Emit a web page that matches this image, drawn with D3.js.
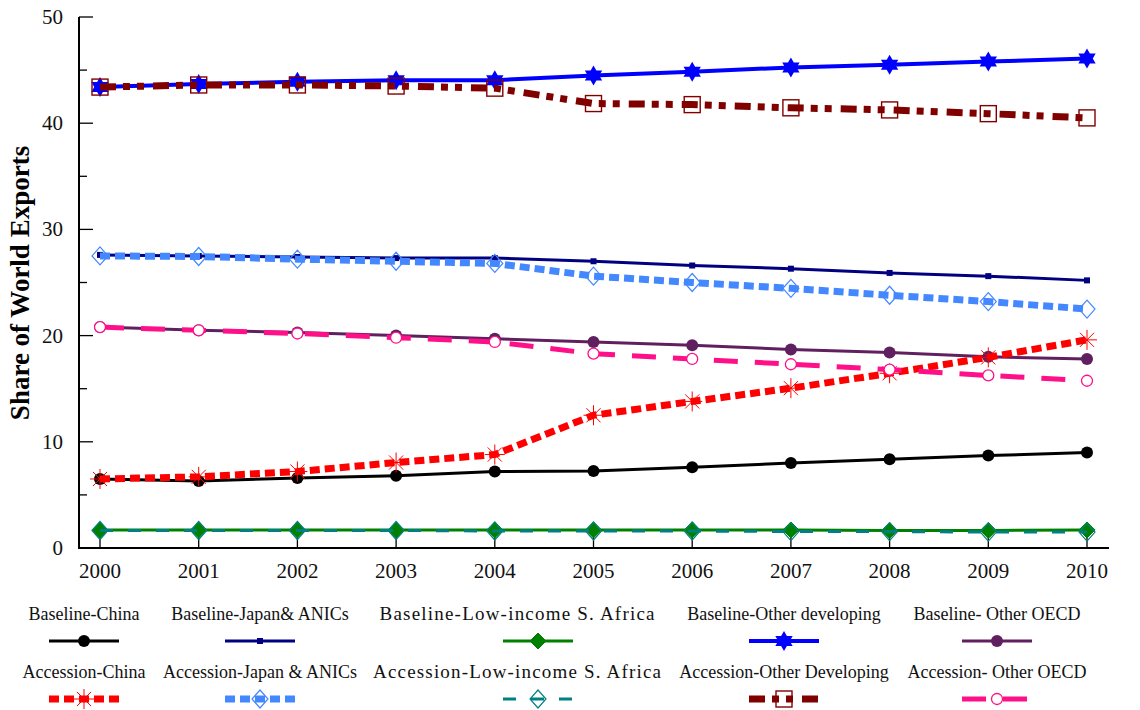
<!DOCTYPE html>
<html>
<head>
<meta charset="utf-8">
<script src="https://cdn.jsdelivr.net/npm/d3@7"></script>
<style>
  html, body { margin: 0; padding: 0; background: #fff; }
  svg { display: block; font-family: "Liberation Serif", "Times New Roman", serif; }
</style>
</head>
<body>
<svg id="chart" width="1140" height="710"></svg>
<script>
// Years on the horizontal axis
const years = [2000, 2001, 2002, 2003, 2004, 2005, 2006, 2007, 2008, 2009, 2010];

// Share of world exports (%) by scenario and region
const baselineChina        = [6.5, 6.3, 6.6, 6.8, 7.2, 7.25, 7.6, 8.0, 8.35, 8.7, 9.0];
const baselineJapanANICs   = [27.6, 27.5, 27.4, 27.3, 27.3, 27.0, 26.6, 26.3, 25.9, 25.6, 25.2];
const baselineLowIncome    = [1.7, 1.7, 1.7, 1.7, 1.7, 1.7, 1.7, 1.7, 1.65, 1.65, 1.7];
const baselineOtherDev     = [43.4, 43.7, 43.9, 44.05, 44.05, 44.5, 44.85, 45.25, 45.5, 45.8, 46.1];
const baselineOtherOECD    = [20.8, 20.5, 20.3, 20.0, 19.7, 19.4, 19.1, 18.7, 18.4, 18.0, 17.8];
const accessionChina       = [6.5, 6.7, 7.2, 8.05, 8.8, 12.5, 13.8, 15.05, 16.45, 17.95, 19.6];
const accessionJapanANICs  = [27.5, 27.45, 27.2, 27.0, 26.8, 25.6, 25.0, 24.45, 23.8, 23.2, 22.5];
const accessionLowIncome   = [1.65, 1.65, 1.65, 1.65, 1.6, 1.6, 1.6, 1.55, 1.55, 1.5, 1.5];
const accessionOtherDev    = [43.4, 43.6, 43.6, 43.5, 43.3, 41.85, 41.75, 41.45, 41.25, 40.9, 40.5];
const accessionOtherOECD   = [20.8, 20.5, 20.2, 19.8, 19.4, 18.3, 17.8, 17.3, 16.8, 16.25, 15.75];

// Axis ticks
const yTickValues = [0, 10, 20, 30, 40, 50];
const yMinorTicks = [5, 15, 25, 35, 45];

// Series styles
const series = [
  { name: "Baseline-China", values: baselineChina, color: "#000000", width: 3, dash: null, marker: "dot", mfill: "#000000" },
  { name: "Baseline-Japan& ANICs", values: baselineJapanANICs, color: "#000080", width: 3, dash: null, marker: "smallsquare", mfill: "#000080" },
  { name: "Baseline-Low-income S. Africa", values: baselineLowIncome, color: "#008000", width: 3, dash: null, marker: "diamond", mfill: "#008000", labelWidth: 275 },
  { name: "Baseline-Other developing", values: baselineOtherDev, color: "#0000ff", width: 4, dash: null, marker: "hexstar", mfill: "#0000ff" },
  { name: "Baseline- Other OECD", values: baselineOtherOECD, color: "#602060", width: 3, dash: null, marker: "dot", mfill: "#602060" },
  { name: "Accession-China", values: accessionChina, color: "#ff0000", width: 7, dash: "10,5", marker: "asterisk", mfill: "none" },
  { name: "Accession-Japan & ANICs", values: accessionJapanANICs, color: "#4488ff", width: 7, dash: "10,5", marker: "opendiamond", mfill: "none" },
  { name: "Accession-Low-income S. Africa", values: accessionLowIncome, color: "#008080", width: 3, dash: "13,15", marker: "opendiamond", mfill: "none", labelWidth: 288 },
  { name: "Accession-Other Developing", values: accessionOtherDev, color: "#800000", width: 7, dash: "16,7,7,7,7,9", marker: "opensquare", mfill: "none" },
  { name: "Accession- Other OECD", values: accessionOtherOECD, color: "#ff1088", width: 5, dash: "24,17", marker: "opencircle", mfill: "#ffffff" }
];

const svg = d3.select("#chart");

const x = d3.scaleLinear().domain([2000, 2010]).range([100, 1087]);
const y = d3.scaleLinear().domain([0, 50]).range([548, 17]);
const axisLeft = 79, axisRight = 1109;

// Axes
const axes = svg.append("g").attr("stroke", "#000").attr("stroke-width", 2);
axes.append("line").attr("x1", axisLeft).attr("x2", axisLeft).attr("y1", y(50)).attr("y2", y(0) + 1);
axes.append("line").attr("x1", axisLeft - 1).attr("x2", axisRight).attr("y1", y(0)).attr("y2", y(0));

axes.selectAll(".ymaj").data(yTickValues).join("line")
  .attr("x1", axisLeft).attr("x2", axisLeft + 14)
  .attr("y1", d => y(d)).attr("y2", d => y(d)).attr("stroke-width", 1.3);
axes.selectAll(".ymin").data(yMinorTicks).join("line")
  .attr("x1", axisLeft).attr("x2", axisLeft + 8)
  .attr("y1", d => y(d)).attr("y2", d => y(d)).attr("stroke-width", 1.3);
axes.selectAll(".xt").data(years).join("line")
  .attr("x1", d => x(d)).attr("x2", d => x(d))
  .attr("y1", y(0)).attr("y2", y(0) - 16).attr("stroke-width", 1.3);

svg.append("g").selectAll("text").data(yTickValues).join("text")
  .attr("x", 63).attr("y", d => y(d) + 7)
  .attr("text-anchor", "end").attr("font-size", 21).attr("fill", "#111")
  .text(d => d);

svg.append("g").selectAll("text").data(years).join("text")
  .attr("x", d => x(d)).attr("y", 578)
  .attr("text-anchor", "middle").attr("font-size", 21).attr("fill", "#111")
  .text(d => d);

svg.append("text")
  .attr("transform", "translate(29,283) rotate(-90)")
  .attr("text-anchor", "middle").attr("font-size", 27).attr("font-weight", "bold")
  .attr("fill", "#000")
  .text("Share of World Exports");

// Marker drawing
function hexStarPath(r) {
  const ri = r / Math.sqrt(3);
  const pts = [];
  for (let i = 0; i < 12; i++) {
    const a = -Math.PI / 2 + i * Math.PI / 6;
    const rr = i % 2 === 0 ? r : ri;
    pts.push([rr * Math.cos(a), rr * Math.sin(a)]);
  }
  return "M" + pts.map(p => p.join(",")).join("L") + "Z";
}

function drawMarker(g, s, cx, cy) {
  const m = g.append("g").attr("transform", `translate(${cx},${cy})`);
  switch (s.marker) {
    case "dot":
      m.append("circle").attr("r", 6).attr("fill", s.mfill);
      break;
    case "smallsquare":
      m.append("rect").attr("x", -3).attr("y", -3).attr("width", 6).attr("height", 6).attr("fill", s.mfill);
      break;
    case "diamond":
      m.append("path").attr("d", "M0,-8L8,0L0,8L-8,0Z").attr("fill", s.mfill)
        .attr("stroke", s.color).attr("stroke-width", 1);
      break;
    case "hexstar":
      m.append("path").attr("d", hexStarPath(10)).attr("fill", s.mfill);
      break;
    case "asterisk": {
      const r = 10;
      const p = d3.path();
      for (let i = 0; i < 4; i++) {
        const a = i * Math.PI / 4;
        p.moveTo(-r * Math.cos(a), -r * Math.sin(a));
        p.lineTo(r * Math.cos(a), r * Math.sin(a));
      }
      m.append("path").attr("d", p.toString()).attr("stroke", s.color).attr("stroke-width", 1).attr("fill", "none");
      break;
    }
    case "opendiamond":
      m.append("path").attr("d", "M0,-9L8,0L0,9L-8,0Z").attr("fill", "none")
        .attr("stroke", s.color).attr("stroke-width", 1.2);
      break;
    case "opensquare":
      m.append("rect").attr("x", -8).attr("y", -8).attr("width", 16).attr("height", 16)
        .attr("fill", "none").attr("stroke", s.color).attr("stroke-width", 1.4);
      break;
    case "opencircle":
      m.append("circle").attr("r", 5.5).attr("fill", s.mfill)
        .attr("stroke", s.color).attr("stroke-width", 1.3);
      break;
  }
}

// Lines and markers
const line = d3.line().x((d, i) => x(years[i])).y(d => y(d));
const plot = svg.append("g");
series.forEach(s => {
  const g = plot.append("g");
  g.append("path").datum(s.values).attr("d", line)
    .attr("fill", "none").attr("stroke", s.color).attr("stroke-width", s.width)
    .attr("stroke-dasharray", s.dash).attr("stroke-linejoin", "round");
  s.values.forEach((v, i) => drawMarker(g, s, x(years[i]), y(v)));
});

// Legend: two rows of five entries
const legendTextX = [84, 260, 517, 784, 997];
const legendSymX = [84, 260, 538, 784, 997];
const legendRows = [{ textY: 620, lineY: 641 }, { textY: 678, lineY: 699 }];
const legend = svg.append("g");
series.forEach((s, k) => {
  const row = legendRows[Math.floor(k / 5)];
  const col = k % 5;
  const t = legend.append("text")
    .attr("x", legendTextX[col]).attr("y", row.textY)
    .attr("text-anchor", "middle").attr("font-size", s.labelWidth ? 19 : 18).attr("fill", "#111")
    .text(s.name);
  if (s.labelWidth) t.attr("textLength", s.labelWidth).attr("lengthAdjust", "spacing");
  const sx = legendSymX[col];
  legend.append("line")
    .attr("x1", sx - 35).attr("x2", sx + 35).attr("y1", row.lineY).attr("y2", row.lineY)
    .attr("stroke", s.color).attr("stroke-width", s.width).attr("stroke-dasharray", s.dash);
  drawMarker(legend, s, sx, row.lineY);
});
</script>
</body>
</html>
